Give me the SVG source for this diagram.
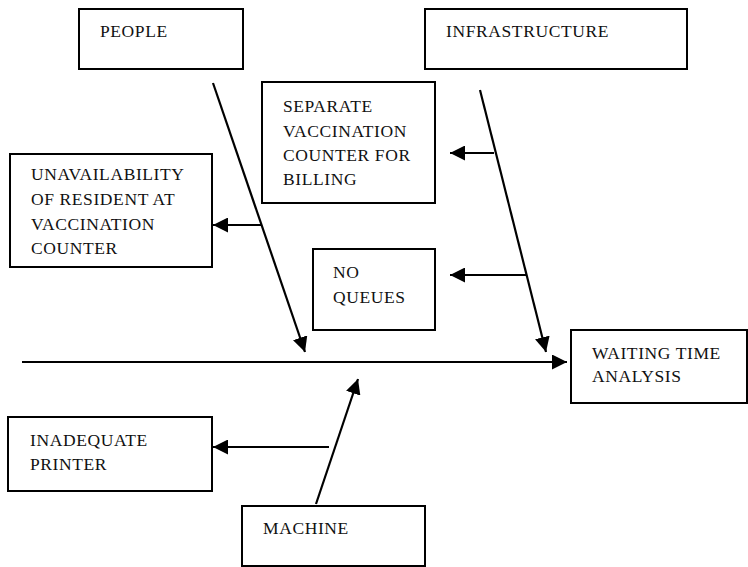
<svg xmlns="http://www.w3.org/2000/svg" width="748" height="567" viewBox="0 0 748 567">
<style>
.box{fill:#fff;stroke:#000;stroke-width:2}
.lbl{font-family:"Liberation Serif","Times New Roman",serif;font-size:17.5px;letter-spacing:0.6px;fill:#111}
.con{stroke:#000;stroke-width:2.2;fill:none;marker-end:url(#ah)}
</style>
<defs>
<marker id="ah" markerUnits="userSpaceOnUse" markerWidth="16" markerHeight="15" refX="15" refY="7.5" orient="auto">
<path d="M0,0 L15,7.5 L0,15 Z" fill="#000"/>
</marker>
</defs>
<rect width="748" height="567" fill="#fff"/>
<g id="connectors">
<line class="con" x1="22" y1="362" x2="567" y2="362"/>
<line class="con" x1="213" y1="83" x2="305" y2="352"/>
<line class="con" x1="480" y1="90" x2="546" y2="352"/>
<line class="con" x1="316" y1="504" x2="358" y2="379"/>
<line class="con" x1="262" y1="225" x2="213" y2="225"/>
<line class="con" x1="494" y1="153" x2="450" y2="153"/>
<line class="con" x1="526" y1="275" x2="450" y2="275"/>
<line class="con" x1="329" y1="447" x2="213" y2="447"/>
</g>
<g id="people">
<rect class="box" x="79" y="9" width="164" height="60"/>
<text class="lbl" x="100" y="37">PEOPLE</text>
</g>
<g id="infrastructure">
<rect class="box" x="425" y="9" width="262" height="60"/>
<text class="lbl" x="446" y="37">INFRASTRUCTURE</text>
</g>
<g id="separate">
<rect class="box" x="262" y="82" width="173" height="121"/>
<text class="lbl" x="283" y="112">SEPARATE</text>
<text class="lbl" x="283" y="137">VACCINATION</text>
<text class="lbl" x="283" y="161">COUNTER FOR</text>
<text class="lbl" x="283" y="185">BILLING</text>
</g>
<g id="unavailability">
<rect class="box" x="10" y="154" width="202" height="113"/>
<text class="lbl" x="31" y="180">UNAVAILABILITY</text>
<text class="lbl" x="31" y="205">OF RESIDENT AT</text>
<text class="lbl" x="31" y="230">VACCINATION</text>
<text class="lbl" x="31" y="254">COUNTER</text>
</g>
<g id="no-queues">
<rect class="box" x="313" y="249" width="122" height="81"/>
<text class="lbl" x="333" y="278">NO</text>
<text class="lbl" x="333" y="303">QUEUES</text>
</g>
<g id="waiting">
<rect class="box" x="571" y="330" width="176" height="73"/>
<text class="lbl" x="592" y="359">WAITING TIME</text>
<text class="lbl" x="592" y="382">ANALYSIS</text>
</g>
<g id="inadequate">
<rect class="box" x="8" y="417" width="204" height="74"/>
<text class="lbl" x="30" y="446">INADEQUATE</text>
<text class="lbl" x="30" y="470">PRINTER</text>
</g>
<g id="machine">
<rect class="box" x="242" y="506" width="183" height="60"/>
<text class="lbl" x="263" y="534">MACHINE</text>
</g>
</svg>
